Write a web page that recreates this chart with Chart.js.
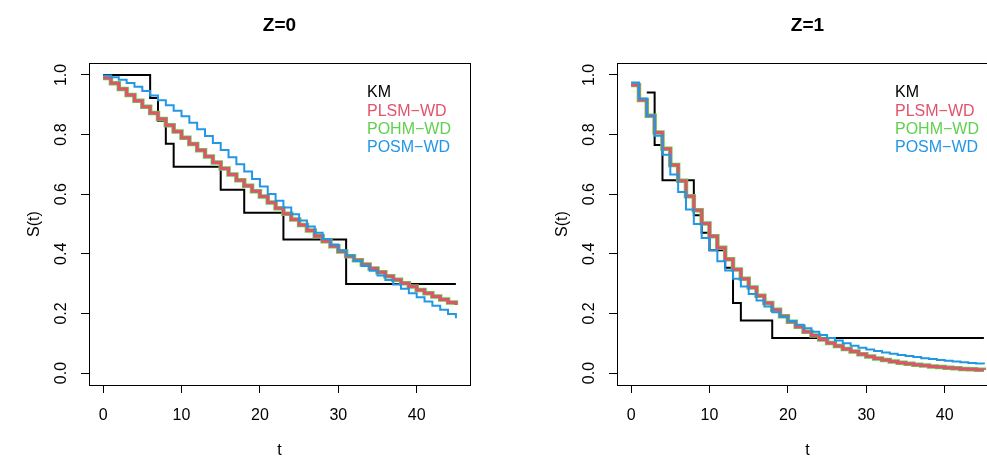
<!DOCTYPE html>
<html>
<head>
<meta charset="utf-8">
<script src="https://cdn.jsdelivr.net/npm/chart.js@4/dist/chart.umd.min.js"></script>
<style>
    html, body {margin: 0; padding: 0; background: #fff; width: 987px; height: 457px; overflow: hidden; position: relative;}
    canvas {position: absolute; top: 0;}
    #z0 {left: 0;}
    #z1 {left: 528px;}
</style>
</head>
<body>
<canvas id="z0" width="493" height="457"></canvas>
<canvas id="z1" width="493" height="457"></canvas>
<script>
// time grid of the fitted curves
const time_grid = [0, 1, 2, 3, 4, 5, 6, 7, 8, 9, 10, 11, 12, 13, 14, 15, 16, 17, 18, 19, 20, 21, 22,
    23, 24, 25, 26, 27, 28, 29, 30, 31, 32, 33, 34, 35, 36, 37, 38, 39, 40, 41, 42, 43, 44, 45]

// Z=0
const km_z0_times = [0, 6, 7, 8, 9, 15, 18, 23, 31, 45]
const km_z0_surv = [1.000, 0.923, 0.846, 0.769, 0.692, 0.615, 0.538, 0.448, 0.299, 0.299]
const plsm_z0 = [0.990, 0.972, 0.953, 0.933, 0.913, 0.893, 0.872, 0.852, 0.831, 0.810,
    0.789, 0.768, 0.747, 0.726, 0.706, 0.686, 0.666, 0.647, 0.628, 0.610,
    0.592, 0.572, 0.553, 0.534, 0.515, 0.497, 0.478, 0.460, 0.442, 0.425,
    0.408, 0.392, 0.378, 0.364, 0.351, 0.338, 0.325, 0.313, 0.301, 0.290,
    0.279, 0.268, 0.257, 0.247, 0.237, 0.228]
const pohm_z0 = [0.990, 0.972, 0.953, 0.933, 0.913, 0.893, 0.872, 0.852, 0.831, 0.810,
    0.789, 0.768, 0.747, 0.726, 0.706, 0.686, 0.666, 0.647, 0.628, 0.610,
    0.592, 0.572, 0.553, 0.534, 0.515, 0.497, 0.478, 0.460, 0.442, 0.425,
    0.408, 0.392, 0.378, 0.364, 0.351, 0.338, 0.325, 0.313, 0.301, 0.290,
    0.279, 0.268, 0.257, 0.247, 0.237, 0.228]
const posm_z0 = [0.998, 0.992, 0.984, 0.973, 0.960, 0.946, 0.931, 0.915, 0.898, 0.880,
    0.861, 0.840, 0.818, 0.795, 0.772, 0.748, 0.724, 0.700, 0.676, 0.651,
    0.626, 0.601, 0.578, 0.555, 0.533, 0.512, 0.492, 0.471, 0.450, 0.431,
    0.412, 0.394, 0.376, 0.359, 0.343, 0.327, 0.312, 0.297, 0.283, 0.268,
    0.254, 0.240, 0.226, 0.212, 0.198, 0.184]

// Z=1
const km_z1_times = [2, 3, 4, 8, 9, 10, 12, 13, 14, 18, 45]
const km_z1_surv = [0.941, 0.765, 0.647, 0.529, 0.471, 0.412, 0.353, 0.235, 0.176, 0.118, 0.118]
const plsm_z1 = [0.966, 0.916, 0.863, 0.807, 0.752, 0.698, 0.645, 0.593, 0.546, 0.502,
    0.459, 0.420, 0.382, 0.347, 0.316, 0.287, 0.259, 0.235, 0.212, 0.191,
    0.172, 0.155, 0.139, 0.126, 0.113, 0.101, 0.091, 0.081, 0.072, 0.063,
    0.056, 0.049, 0.044, 0.039, 0.035, 0.031, 0.028, 0.025, 0.022, 0.020,
    0.018, 0.016, 0.014, 0.013, 0.011, 0.010]
const pohm_z1 = [0.966, 0.916, 0.863, 0.807, 0.752, 0.698, 0.645, 0.593, 0.546, 0.502,
    0.459, 0.420, 0.382, 0.347, 0.316, 0.287, 0.259, 0.235, 0.212, 0.191,
    0.172, 0.155, 0.139, 0.126, 0.113, 0.101, 0.091, 0.081, 0.072, 0.063,
    0.056, 0.049, 0.044, 0.039, 0.035, 0.031, 0.028, 0.025, 0.022, 0.020,
    0.018, 0.016, 0.014, 0.013, 0.011, 0.010]
const posm_z1 = [0.975, 0.921, 0.863, 0.796, 0.732, 0.666, 0.607, 0.549, 0.500, 0.453,
    0.412, 0.375, 0.344, 0.316, 0.290, 0.265, 0.243, 0.223, 0.204, 0.189,
    0.175, 0.162, 0.150, 0.139, 0.128, 0.118, 0.109, 0.100, 0.092, 0.085,
    0.079, 0.074, 0.069, 0.065, 0.061, 0.057, 0.054, 0.050, 0.047, 0.044,
    0.041, 0.039, 0.036, 0.034, 0.032, 0.030]

const x_ticks = [0, 10, 20, 30, 40]
const y_ticks = [0, 0.2, 0.4, 0.6, 0.8, 1]
const series_names = ["KM", "PLSM\u2212WD", "POHM\u2212WD", "POSM\u2212WD"]
const series_colors = ["#000000", "#DF536B", "#61D04F", "#2297E6"]
const series_widths = [2, 3, 4.5, 2]
const series_order = [4, 2, 3, 1]

const font_family = "'Liberation Sans', Arial, Helvetica, sans-serif"

// plot box and text legend (R style, bty="n")
const box_plugin = {
    id: "box",
    afterDatasetsDraw(chart) {
        let ctx = chart.ctx
        let a = chart.chartArea
        ctx.save()
        ctx.strokeStyle = "#000"
        ctx.lineWidth = 1
        ctx.strokeRect(Math.round(a.left) + 0.5, Math.round(a.top) + 0.5,
            Math.round(a.right - a.left), Math.round(a.bottom - a.top))
        ctx.font = `16px ${font_family}`
        ctx.textBaseline = "middle"
        ctx.textAlign = "left"
        chart.data.datasets.forEach((ds, i) => {
            ctx.fillStyle = ds.borderColor
            ctx.fillText(ds.label, a.right - 103, a.top + 30 + i * 18.3)
        })
        ctx.restore()
    }
}

function to_points (xs, ys) {
    return xs.map((x, i) => ({x: x, y: ys[i]}))
}

function make_chart (config) {
    let series = [
        to_points(config.km_times, config.km_surv),
        to_points(time_grid, config.plsm),
        to_points(time_grid, config.pohm),
        to_points(time_grid, config.posm)
    ]
    let datasets = series.map((pts, i) => ({
        label: series_names[i],
        data: pts,
        borderColor: series_colors[i],
        backgroundColor: series_colors[i],
        borderWidth: series_widths[i],
        order: series_order[i],
        stepped: true,
        pointRadius: 0,
        fill: false,
        borderCapStyle: "butt",
        borderJoinStyle: "miter"
    }))
    let tick_font = {family: font_family, size: 16}
    return new Chart(config.id, {
        type: "line",
        data: {datasets: datasets},
        options: {
            responsive: false,
            animation: false,
            devicePixelRatio: 1,
            layout: {padding: {left: 0, right: 23, top: 0, bottom: 0}},
            plugins: {
                legend: {display: false},
                tooltip: {enabled: false},
                title: {
                    display: true,
                    text: config.title,
                    fullSize: false,
                    color: "#000",
                    font: {family: font_family, size: 19, weight: "bold", lineHeight: 1.2},
                    padding: {top: 14, bottom: 26.2}
                }
            },
            scales: {
                x: {
                    type: "linear",
                    min: -1.8,
                    max: 46.8,
                    afterBuildTicks: (scale) => { scale.ticks = x_ticks.map(v => ({value: v})) },
                    afterFit: (scale) => { scale.height = 72 },
                    grid: {drawOnChartArea: false, drawTicks: true, tickLength: 8, color: "#000", lineWidth: 1},
                    border: {display: true, color: "#000", width: 1},
                    ticks: {color: "#000", font: tick_font, padding: 13, maxRotation: 0},
                    title: {display: true, text: "t", color: "#000", font: tick_font, padding: {top: 0, bottom: -3}}
                },
                y: {
                    type: "linear",
                    min: -0.04,
                    max: 1.04,
                    afterBuildTicks: (scale) => { scale.ticks = y_ticks.map(v => ({value: v})) },
                    afterFit: (scale) => { scale.width = 89 },
                    grid: {drawOnChartArea: false, drawTicks: true, tickLength: 8, color: "#000", lineWidth: 1},
                    border: {display: true, color: "#000", width: 1},
                    ticks: {
                        color: "#000", font: tick_font, padding: 8,
                        minRotation: 90, maxRotation: 90, crossAlign: "center",
                        callback: (v) => v.toFixed(1)
                    },
                    title: {display: true, text: "S(t)", color: "#000", font: tick_font, padding: {top: 25.4, bottom: 0}}
                }
            }
        },
        plugins: [box_plugin]
    })
}

make_chart({id: "z0", title: "Z=0", km_times: km_z0_times, km_surv: km_z0_surv,
    plsm: plsm_z0, pohm: pohm_z0, posm: posm_z0})
make_chart({id: "z1", title: "Z=1", km_times: km_z1_times, km_surv: km_z1_surv,
    plsm: plsm_z1, pohm: pohm_z1, posm: posm_z1})
</script>
</body>
</html>
